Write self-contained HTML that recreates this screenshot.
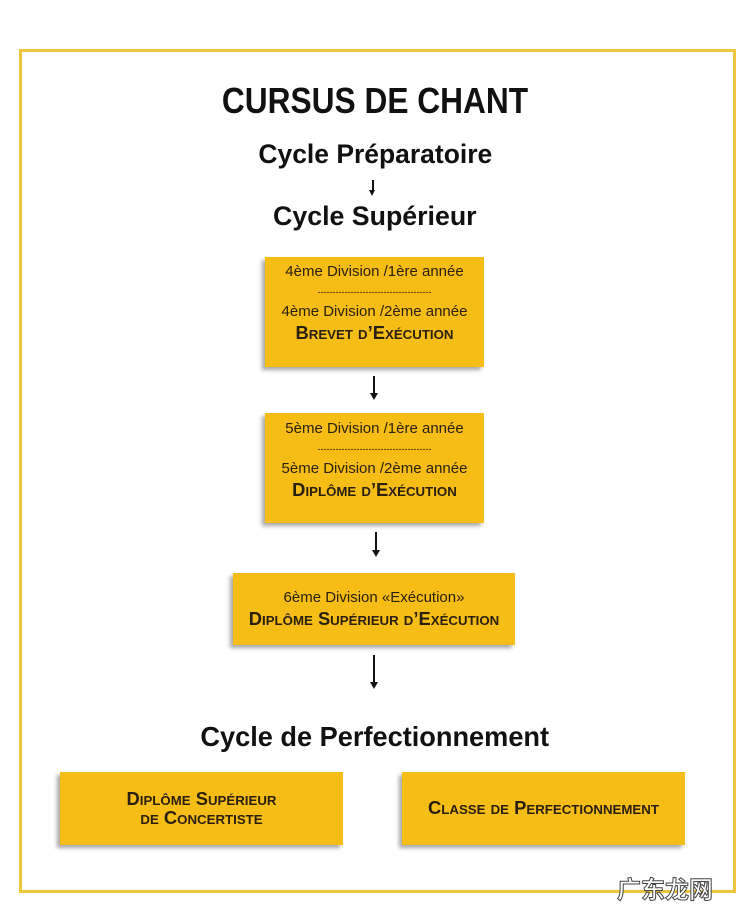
<!DOCTYPE html>
<html><head><meta charset="utf-8"><style>
body{margin:0;width:750px;height:913px;background:#fff;position:relative;overflow:hidden;font-family:"Liberation Sans",sans-serif;color:#111}
.frame{position:absolute;left:19px;top:49px;width:711px;height:838px;border:3px solid #efc53c}
.t{position:absolute;left:0;width:750px;text-align:center;font-weight:bold;white-space:nowrap}
.t span{display:inline-block;transform:scaleX(.98)}
.box{position:absolute;background:#f6bd16;box-shadow:-3px 3px 4px rgba(0,0,0,.35);text-align:center;color:#2a2010}
.box div{white-space:nowrap}
.n{font-size:15px;line-height:20px}
.sc{font-weight:bold;font-variant:small-caps;font-size:18px;line-height:22px;transform:scaleX(1.02)}
.ar{position:absolute;width:2px;background:#111}
.ah{position:absolute;width:0;height:0;border-left:4px solid transparent;border-right:4px solid transparent;border-top:7px solid #111}
</style></head><body>
<div class="frame"></div>
<div class="t" style="top:80px;font-size:36px"><span style="transform:scaleX(.88)">CURSUS DE CHANT</span></div>
<div class="t" style="top:139px;font-size:27px"><span>Cycle Préparatoire</span></div>
<div class="ar" style="left:372px;top:180px;height:11px;width:1.5px"></div><div class="ah" style="left:369px;top:190px;border-top-width:6px;border-left-width:3px;border-right-width:3px"></div>
<div class="t" style="top:201px;font-size:27px"><span style="transform:scaleX(.99)">Cycle Supérieur</span></div>

<div class="box" style="left:265px;top:257px;width:219px;height:110px">
<div class="n" style="margin-top:5px">4ème Division /1ère année</div>
<div style="font-size:9px;line-height:20px">--------------------------------------</div>
<div class="n">4ème Division /2ème année</div>
<div class="sc">Brevet d’Exécution</div>
</div>
<div class="ar" style="left:373px;top:376px;height:18px"></div><div class="ah" style="left:370px;top:393px"></div>

<div class="box" style="left:265px;top:413px;width:219px;height:110px">
<div class="n" style="margin-top:6px">5ème Division /1ère année</div>
<div style="font-size:9px;line-height:20px">--------------------------------------</div>
<div class="n">5ème Division /2ème année</div>
<div class="sc">Diplôme d’Exécution</div>
</div>
<div class="ar" style="left:375px;top:532px;height:19px"></div><div class="ah" style="left:372px;top:550px"></div>

<div class="box" style="left:233px;top:573px;width:282px;height:72px">
<div class="n" style="margin-top:15px">6ème Division «Exécution»</div>
<div class="sc">Diplôme Supérieur d’Exécution</div>
</div>
<div class="ar" style="left:373px;top:655px;height:27px"></div><div class="ah" style="left:370px;top:682px"></div>

<div class="t" style="top:721px;font-size:28px"><span style="transform:scaleX(.97)">Cycle de Perfectionnement</span></div>

<div class="box" style="left:60px;top:772px;width:283px;height:73px">
<div class="sc" style="margin-top:18px;line-height:19px">Diplôme Supérieur</div>
<div class="sc" style="line-height:19px">de Concertiste</div>
</div>
<div class="box" style="left:402px;top:772px;width:283px;height:73px">
<div class="sc" style="margin-top:25px">Classe de Perfectionnement</div>
</div>
<div style="position:absolute;left:617px;top:870px;font-size:24px;color:#fff;-webkit-text-stroke:1px #444;font-family:'Noto Sans CJK SC',sans-serif;font-weight:bold">广东龙网</div>
</body></html>
